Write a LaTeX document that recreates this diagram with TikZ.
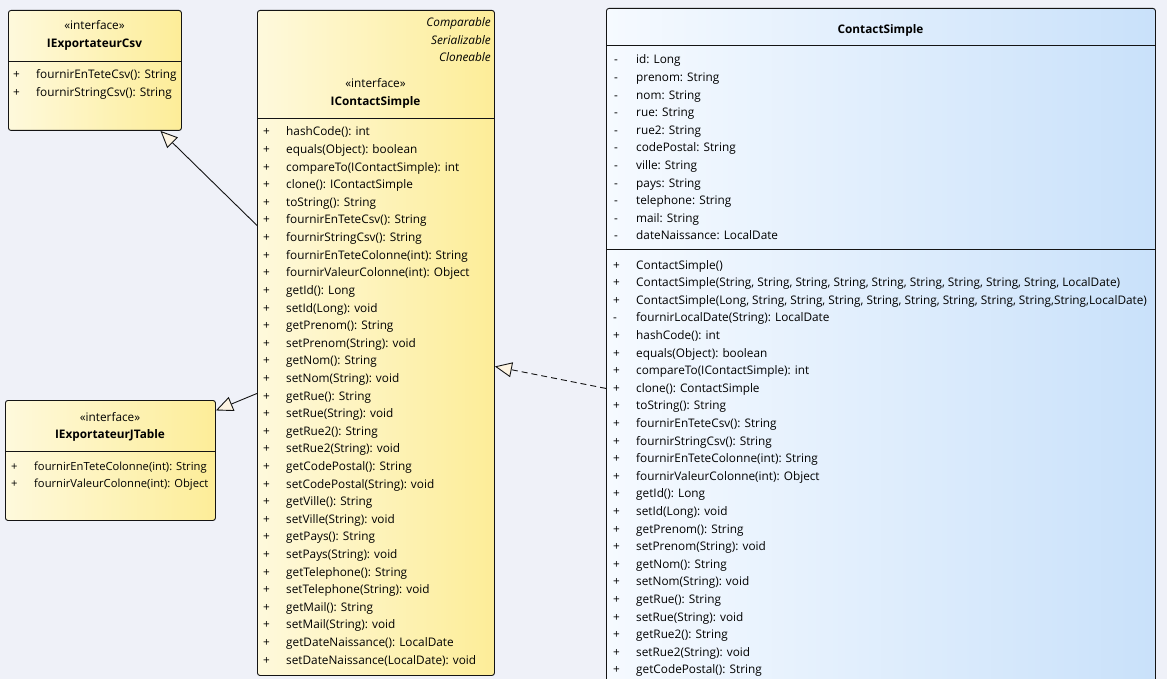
\documentclass[tikz,border=0pt]{standalone}
\usepackage{fontspec}
\setmainfont{Open Sans}
\usetikzlibrary{arrows.meta, positioning, calc}

\definecolor{canvas}{RGB}{239,241,248}
\definecolor{ifaceLeft}{RGB}{254,249,220}
\definecolor{ifaceRight}{RGB}{253,237,152}
\definecolor{classLeft}{RGB}{246,250,255}
\definecolor{classRight}{RGB}{201,225,250}
\definecolor{tipFill}{RGB}{253,244,226}
\definecolor{edgeGray}{RGB}{20,20,20}

% one row per member: sign / text
\newcommand*{\members}[5]{%
  \foreach \sgn/\txt [count=\k from 0] in {#5} {
    \node[member] (#1-s\k) at (#2, #4+17.6*\k) {\sgn};
    \node[member] (#1-t\k) at (#3, #4+17.6*\k) {\txt};
  }%
}

\begin{document}
\begin{tikzpicture}[x=1pt, y=-1pt,
    every node/.style = {inner sep=0pt},
    member/.style  = {anchor=base west, text=black,
                      font=\fontsize{11.8}{14}\selectfont},
    stereo/.style  = {anchor=base, font=\fontsize{11.8}{14}\selectfont},
    title/.style   = {anchor=base, font=\fontsize{11.8}{14}\selectfont\bfseries},
    realizes/.style= {anchor=base east, font=\fontsize{11.8}{14}\selectfont\itshape},
    iface/.style   = {draw=edgeGray, line width=0.9pt, rounded corners=2.5pt,
                      anchor=north west, left color=ifaceLeft, right color=ifaceRight},
    klass/.style   = {draw=edgeGray, line width=0.9pt, rounded corners=2.5pt,
                      anchor=north west, left color=classLeft, right color=classRight},
    divider/.style = {draw=edgeGray, line width=0.8pt},
    generalize/.style = {draw=edgeGray, line width=0.9pt,
                      -{Triangle[length=17pt, width=15pt, fill=tipFill]}},
  ]
  \useasboundingbox (0,0) rectangle (1167,679);
  \fill[canvas] (0,0) rectangle (1167,679);
  \clip (0,0) rectangle (1167,679);

  % boxes
  \node[iface, minimum width=173, minimum height=120] (csv) at (8,10) {};
  \node[iface, minimum width=237, minimum height=665] (ics) at (257,10) {};
  \node[iface, minimum width=210, minimum height=120] (jtab) at (5,400) {};
  \node[klass, minimum width=549, minimum height=682] (cs) at (606,8) {};

  \draw[divider] ([yshift=-51]csv.north west) -- ([yshift=-51]csv.north east);
  \draw[divider] ([yshift=-108]ics.north west) -- ([yshift=-108]ics.north east);
  \draw[divider] ([yshift=-51]jtab.north west) -- ([yshift=-51]jtab.north east);
  \draw[divider] ([yshift=-37]cs.north west) -- ([yshift=-37]cs.north east);
  \draw[divider] ([yshift=-241]cs.north west) -- ([yshift=-241]cs.north east);

  % headers
  \node[stereo] (csv-st) at (94.5,30) {«interface»};
  \node[title] (csv-nm) at (94.5,48) {IExportateurCsv};
  \node[realizes] (ics-r1) at (491,27) {Comparable};
  \node[realizes] (ics-r2) at (491,45) {Serializable};
  \node[realizes] (ics-r3) at (491,62) {Cloneable};
  \node[stereo] (ics-st) at (375.5,88) {«interface»};
  \node[title] (ics-nm) at (375.5,106) {IContactSimple};
  \node[stereo] (jtab-st) at (110,421) {«interface»};
  \node[title] (jtab-nm) at (110,438) {IExportateurJTable};
  \node[title] (cs-nm) at (880.5,34) {ContactSimple};

  % members
  \members{csv}{13}{36}{79}{+/fournirEnTeteCsv(): String, +/fournirStringCsv(): String}
  \begin{scope}[member/.append style={font=\fontsize{11.2}{14}\selectfont}]
  \members{jtab}{11}{34}{470}{+/fournirEnTeteColonne(int): String,
    +/fournirValeurColonne(int): Object}
  \end{scope}
  \members{ics}{263}{286}{136}{+/hashCode(): int, +/equals(Object): boolean,
    +/compareTo(IContactSimple): int, +/clone(): IContactSimple,
    +/toString(): String, +/fournirEnTeteCsv(): String,
    +/fournirStringCsv(): String, +/fournirEnTeteColonne(int): String,
    +/fournirValeurColonne(int): Object, +/getId(): Long, +/setId(Long): void,
    +/getPrenom(): String, +/setPrenom(String): void, +/getNom(): String,
    +/setNom(String): void, +/getRue(): String, +/setRue(String): void,
    +/getRue2(): String, +/setRue2(String): void, +/getCodePostal(): String,
    +/setCodePostal(String): void, +/getVille(): String,
    +/setVille(String): void, +/getPays(): String, +/setPays(String): void,
    +/getTelephone(): String, +/setTelephone(String): void,
    +/getMail(): String, +/setMail(String): void,
    +/getDateNaissance(): LocalDate, +/setDateNaissance(LocalDate): void}
  \members{csa}{614}{636}{64}{-/id: Long, -/prenom: String, -/nom: String,
    -/rue: String, -/rue2: String, -/codePostal: String, -/ville: String,
    -/pays: String, -/telephone: String, -/mail: String,
    -/dateNaissance: LocalDate}
  \members{csm}{613}{636}{269}{+/ContactSimple(),
    +/{ContactSimple(String, String, String, String, String, String, String, String, String, LocalDate)},
    +/{ContactSimple(Long, String, String, String, String, String, String, String, String,String,LocalDate)},
    -/fournirLocalDate(String): LocalDate, +/hashCode(): int,
    +/equals(Object): boolean, +/compareTo(IContactSimple): int,
    +/clone(): ContactSimple, +/toString(): String,
    +/fournirEnTeteCsv(): String, +/fournirStringCsv(): String,
    +/fournirEnTeteColonne(int): String, +/fournirValeurColonne(int): Object,
    +/getId(): Long, +/setId(Long): void, +/getPrenom(): String,
    +/setPrenom(String): void, +/getNom(): String, +/setNom(String): void,
    +/getRue(): String, +/setRue(String): void, +/getRue2(): String,
    +/setRue2(String): void, +/getCodePostal(): String}

  % connectors
  \draw[generalize] ([yshift=117.5]ics.west) -- ([xshift=65.5]csv.south);
  \draw[generalize] ([yshift=-50.5]ics.west) -- ([yshift=50]jtab.east);
  \draw[generalize, dash pattern=on 6pt off 4pt] ([yshift=-39]cs.west) -- ([yshift=-23.5]ics.east);
\end{tikzpicture}
\end{document}
